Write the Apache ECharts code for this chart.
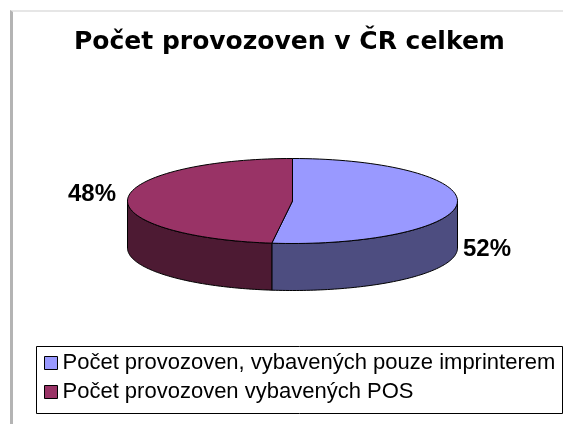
<!DOCTYPE html>
<html lang="cs">
<head>
    <meta charset="UTF-8">
    <title>Počet provozoven v ČR celkem</title>
    <script src="https://cdn.jsdelivr.net/npm/echarts@6/dist/echarts.min.js"></script>
    <style>
        body { margin: 0; background: #fff; }
        #frame { position: absolute; left: 10px; top: 10px; width: 553px; height: 414px;
                 border-left: 3px solid #b4b4b4; border-top: 2px solid #e6e6e6; }
        #main { position: absolute; left: 0; top: 0; width: 563px; height: 424px; }
    </style>
</head>
<body>
    <div id="frame"></div>
    <div id="main"></div>
    <script type="text/javascript">
        // data
        var names = ['Počet provozoven, vybavených pouze imprinterem', 'Počet provozoven vybavených POS'];
        var values = [52, 48];
        var topColors = ['#9999FF', '#993366'];
        var sideColors = ['#4D4D80', '#4D1A33'];

        var myChart = echarts.init(document.getElementById('main'));

        var total = values.reduce(function (a, b) { return a + b; }, 0);

        // geometry of the tilted pie
        var cx = 292.5, cy = 201, rx = 165, ry = 42.5, depth = 47;

        function pt(theta, dy) {
            return [cx + rx * Math.sin(theta), cy - ry * Math.cos(theta) + (dy || 0)];
        }

        function renderSlice(params, api) {
            var start = api.value(0), val = api.value(1), idx = params.seriesIndex;
            var a0 = start / total * Math.PI * 2;
            var a1 = (start + val) / total * Math.PI * 2;
            var steps = 80, i, t;
            var children = [];

            // visible front wall (angles between PI/2 and 3PI/2)
            var s0 = Math.max(a0, Math.PI / 2), s1 = Math.min(a1, Math.PI * 1.5);
            if (s1 > s0) {
                var wall = [];
                for (i = 0; i <= steps; i++) {
                    t = s0 + (s1 - s0) * i / steps;
                    wall.push(pt(t, 0));
                }
                for (i = steps; i >= 0; i--) {
                    t = s0 + (s1 - s0) * i / steps;
                    wall.push(pt(t, depth));
                }
                children.push({
                    type: 'polygon',
                    shape: { points: wall },
                    style: { fill: sideColors[idx], stroke: '#000', lineWidth: 1 }
                });
            }

            // top face
            var face = [[cx, cy]];
            for (i = 0; i <= steps; i++) {
                t = a0 + (a1 - a0) * i / steps;
                face.push(pt(t, 0));
            }
            children.push({
                type: 'polygon',
                shape: { points: face },
                style: { fill: topColors[idx], stroke: '#000', lineWidth: 1 }
            });

            return { type: 'group', children: children };
        }

        var series = [];
        var start = 0;
        for (var k = 0; k < values.length; k++) {
            series.push({
                name: names[k],
                type: 'custom',
                coordinateSystem: 'none',
                renderItem: renderSlice,
                itemStyle: { color: topColors[k], borderColor: '#000', borderWidth: 1 },
                data: [[start, values[k]]],
                silent: true
            });
            start += values[k];
        }

        // percent labels
        var labelPos = [[463, 250], [116, 195]];
        var graphics = values.map(function (v, k) {
            return {
                type: 'text',
                left: k === 0 ? labelPos[k][0] : null,
                right: k === 1 ? 563 - labelPos[k][0] : null,
                top: labelPos[k][1] - 13,
                style: {
                    text: Math.round(v / total * 100) + '%',
                    font: 'bold 24px "Liberation Sans", Arial, sans-serif',
                    fill: '#000'
                }
            };
        });

        // legend frame
        graphics.push({
            type: 'rect',
            left: 34,
            top: 344,
            shape: { width: 526, height: 67 },
            style: { fill: 'none', stroke: '#000', lineWidth: 1 },
            z: -1
        });

        var option = {
            animation: false,
            title: {
                text: 'Počet provozoven v ČR celkem',
                left: 74,
                top: 30,
                padding: 0,
                textStyle: {
                    fontFamily: '"DejaVu Sans", sans-serif',
                    fontWeight: 'bold',
                    fontSize: 25,
                    color: '#000'
                }
            },
            legend: {
                orient: 'vertical',
                left: 44,
                top: 352,
                data: names,
                icon: 'rect',
                itemWidth: 13,
                itemHeight: 13,
                itemGap: 7,
                padding: 0,
                itemStyle: { borderColor: '#000', borderWidth: 1 },
                textStyle: {
                    fontFamily: '"Liberation Sans", Arial, sans-serif',
                    fontSize: 22,
                    color: '#000'
                }
            },
            graphic: graphics,
            series: series
        };

        myChart.setOption(option);
    </script>
</body>
</html>
